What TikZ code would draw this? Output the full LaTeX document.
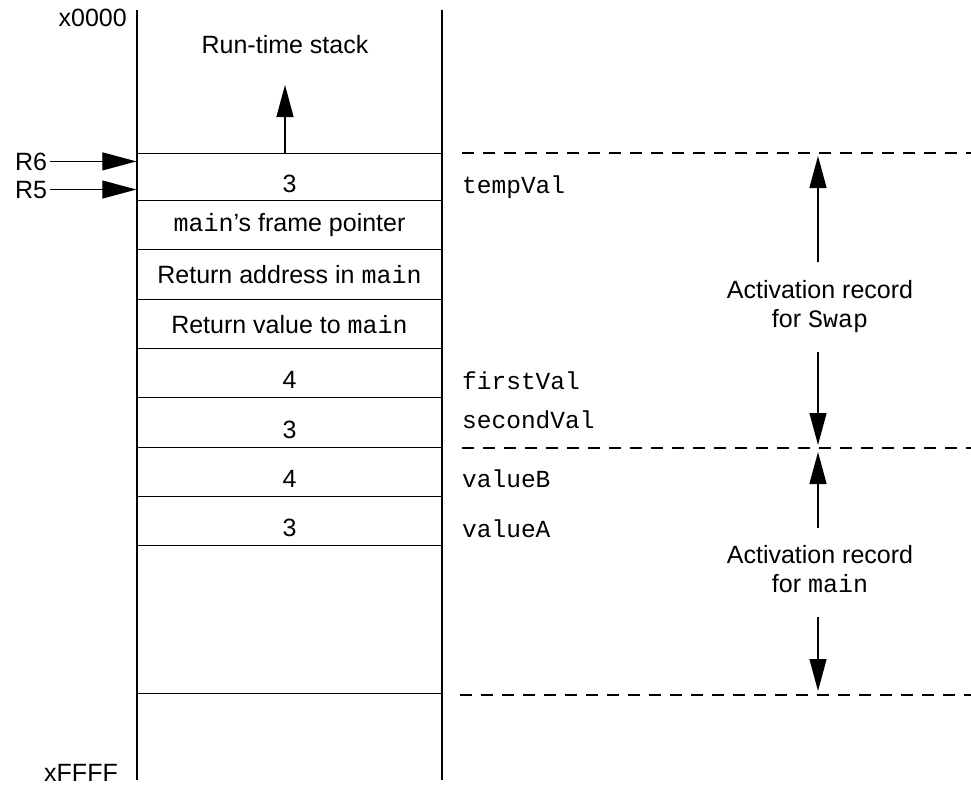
\documentclass[tikz,border=0pt]{standalone}
\usepackage{fontspec}
\setmainfont{Liberation Sans}
\setmonofont{Liberation Mono}
\usetikzlibrary{arrows.meta}
\newcommand{\lowr}[1]{\raisebox{-7pt}[\height][\depth]{#1}}
\begin{document}
\begin{tikzpicture}[x=1pt,y=-1pt,
  font=\fontsize{25}{30}\selectfont,
  cell/.style={draw, line width=1.3pt, minimum width=305pt, inner sep=0pt, anchor=north},
  lbl/.style={font=\fontsize{24.5}{28}\selectfont\ttfamily, anchor=base west, inner sep=0pt},
  txt/.style={anchor=base, inner sep=0pt},
  stkline/.style={line width=1.3pt},
  bigarr/.style={-{Triangle[length=32pt,width=17pt]}, line width=1.3pt},
  regarr/.style={-{Triangle[length=34pt,width=18pt]}, line width=1.1pt},
  dashline/.style={dash pattern=on 12pt off 9pt, line width=1.2pt}]
\useasboundingbox (0,0) rectangle (971,787);

% stack column
\coordinate (lt) at (137,10);
\coordinate (lb) at (137,780);
\coordinate (rt) at (442,10);
\coordinate (rb) at (442,780);
\draw[stkline] (lt) -- (lb);
\draw[stkline] (rt) -- (rb);

% cells
\node[cell, minimum height=47pt] (c1) at (289.5,153) {\lowr{3}};
\node[cell, minimum height=49pt] (c2) at (289.5,200) {\texttt{main}'s frame pointer};
\node[cell, minimum height=50pt] (c3) at (289.5,249) {Return address in \texttt{main}};
\node[cell, minimum height=49pt] (c4) at (289.5,299) {Return value to \texttt{main}};
\node[cell, minimum height=49pt] (c5) at (289.5,348) {\lowr{4}};
\node[cell, minimum height=50pt] (c6) at (289.5,397) {\lowr{3}};
\node[cell, minimum height=49pt] (c7) at (289.5,447) {\lowr{4}};
\node[cell, minimum height=49pt] (c8) at (289.5,496) {\lowr{3}};
\node[cell, minimum height=148pt] (c9) at (289.5,545) {};

% top labels
\node[txt] (title) at (285,53) {Run-time stack};
\coordinate (sa) at (285,85);
\draw[bigarr] (c1.north -| sa) -- (sa);
\node[anchor=base east, inner sep=0pt] (top) at (127,27) {x0000};
\node[anchor=base east, inner sep=0pt] (bot) at (118,781) {xFFFF};

% registers
\node[anchor=base west, inner sep=0pt] (r6) at (15,170) {R6};
\node[anchor=base west, inner sep=0pt] (r5) at (15,198) {R5};
\draw[regarr] ([xshift=3pt]r6.east) -- (r6.east -| c1.west);
\draw[regarr] ([xshift=3pt]r5.east) -- (r5.east -| c1.west);

% variable names
\node[lbl] (tv) at (462,193) {tempVal};
\node[lbl] (fv) at (462,389) {firstVal};
\node[lbl] (sv) at (462,428) {secondVal};
\node[lbl] (vb) at (462,487) {valueB};
\node[lbl] (va) at (462,537) {valueA};

% dashed boundaries
\coordinate (d1a) at (462,153); \coordinate (d1b) at (971,153);
\coordinate (d2a) at (462,448); \coordinate (d2b) at (971,448);
\coordinate (d3a) at (460,695); \coordinate (d3b) at (971,695);
\draw[dashline] (d1a) -- (d1b);
\draw[dashline] (d2a) -- (d2b);
\draw[dashline] (d3a) -- (d3b);

% activation record for Swap
\node[txt] (sw1) at (820,298) {Activation record};
\node[txt] (sw2) at (820,327) {for \texttt{Swap}};
\coordinate (swu0) at (818,262); \coordinate (swu1) at (818,156);
\coordinate (swd0) at (818,352); \coordinate (swd1) at (818,445);
\draw[bigarr] (swu0) -- (swu1);
\draw[bigarr] (swd0) -- (swd1);

% activation record for main
\node[txt] (mn1) at (820,563) {Activation record};
\node[txt] (mn2) at (820,592) {for \texttt{main}};
\coordinate (mnu0) at (818,528); \coordinate (mnu1) at (818,452);
\coordinate (mnd0) at (818,617); \coordinate (mnd1) at (818,691);
\draw[bigarr] (mnu0) -- (mnu1);
\draw[bigarr] (mnd0) -- (mnd1);
\end{tikzpicture}
\end{document}
